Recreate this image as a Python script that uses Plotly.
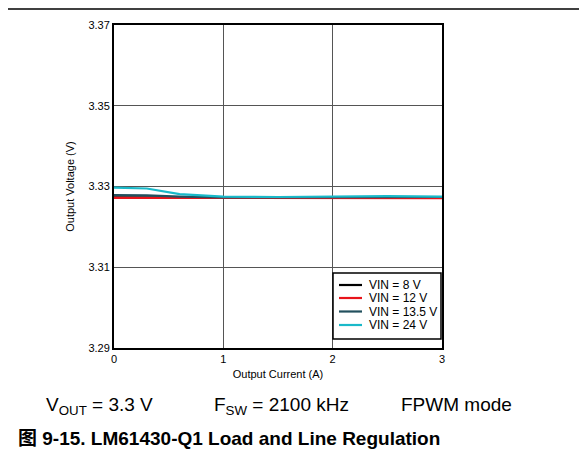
import plotly.graph_objects as go

current = [0, 0.3, 0.6, 1.0, 1.5, 2.0, 2.5, 3.0]
v_8 = [3.3273, 3.3273, 3.3272, 3.3272, 3.3272, 3.3272, 3.3272, 3.3272]
v_12 = [3.3272, 3.3272, 3.3272, 3.3271, 3.3271, 3.3271, 3.3271, 3.3271]
v_135 = [3.3279, 3.3278, 3.3275, 3.3273, 3.3273, 3.3273, 3.3273, 3.3274]
v_24 = [3.3297, 3.3295, 3.3281, 3.3275, 3.3274, 3.3275, 3.3276, 3.3275]

series_names = ["VIN = 8 V", "VIN = 12 V", "VIN = 13.5 V", "VIN = 24 V"]
series_values = [v_8, v_12, v_135, v_24]
series_colors = ["#000000", "#e8141b", "#22505e", "#1ab9c9"]

x_ticks = [0, 1, 2, 3]
y_ticks = [3.29, 3.31, 3.33, 3.35, 3.37]

# page body has an 8px margin: work in reference pixel coords, offset by 8
OFF = 8
PL, PR, PT, PB = 114, 442, 25, 348
W, H = 587 - OFF, 471 - OFF


def px(xr):
    return (xr - PL) / (PR - PL)


def py(yr):
    return (PB - yr) / (PB - PT)


fig = go.Figure()
for name, vals, color in zip(series_names, series_values, series_colors):
    fig.add_trace(go.Scatter(x=current, y=vals, mode="lines", name=name,
                             line=dict(color=color, width=2.2), showlegend=False))

fig.update_layout(
    width=W, height=H,
    margin=dict(l=PL - OFF, r=W - (PR - OFF), t=PT - OFF, b=H - (PB - OFF)),
    paper_bgcolor="white", plot_bgcolor="white",
    font=dict(family="Liberation Sans, Arial, sans-serif", color="black", size=11),
    showlegend=False,
    xaxis=dict(range=[0, 3], tickvals=x_ticks, showgrid=True, gridcolor="#555555", gridwidth=1,
               showline=True, linecolor="black", linewidth=2, mirror=True,
               zeroline=False, ticks="", tickfont=dict(size=11),
               title=dict(text="Output Current (A)", font=dict(size=11), standoff=6)),
    yaxis=dict(range=[3.29, 3.37], tickvals=y_ticks, tickformat=".2f", showgrid=True,
               gridcolor="#555555", gridwidth=1,
               showline=True, linecolor="black", linewidth=2, mirror=True,
               zeroline=False, ticks="", tickfont=dict(size=11),
               title=dict(text="Output Voltage (V)", font=dict(size=11), standoff=12)),
)

# top rule
fig.add_shape(type="line", xref="paper", yref="paper", x0=px(0), x1=px(600),
              y0=py(9), y1=py(9), line=dict(color="black", width=1.5))

# custom legend
fig.add_shape(type="rect", xref="paper", yref="paper", x0=px(333), x1=px(441),
              y0=py(339), y1=py(273), line=dict(color="black", width=1.5),
              fillcolor="white", layer="above")
leg_y = [285, 298, 311.5, 325]
for name, color, yr in zip(series_names, series_colors, leg_y):
    fig.add_shape(type="line", xref="paper", yref="paper", x0=px(339), x1=px(362),
                  y0=py(yr), y1=py(yr), line=dict(color=color, width=2.2), layer="above")
    fig.add_annotation(xref="paper", yref="paper", x=px(367), y=py(yr),
                       xanchor="left", yanchor="middle", showarrow=False,
                       text=name, font=dict(size=12))

fig.add_annotation(xref="paper", yref="paper", x=px(44), y=py(406),
                   xanchor="left", yanchor="middle", showarrow=False,
                   text="V<sub>OUT</sub> = 3.3 V", font=dict(size=19))
fig.add_annotation(xref="paper", yref="paper", x=px(212), y=py(406),
                   xanchor="left", yanchor="middle", showarrow=False,
                   text="F<sub>SW</sub> = 2100 kHz", font=dict(size=19))
fig.add_annotation(xref="paper", yref="paper", x=px(399), y=py(404),
                   xanchor="left", yanchor="middle", showarrow=False,
                   text="FPWM mode", font=dict(size=19))
fig.add_annotation(xref="paper", yref="paper", x=px(16), y=py(438),
                   xanchor="left", yanchor="middle", showarrow=False,
                   text="<b>图 9-15. LM61430-Q1 Load and Line Regulation</b>",
                   font=dict(size=19, family="Liberation Sans, Noto Sans CJK SC, sans-serif"))

fig.write_html("out.html")
